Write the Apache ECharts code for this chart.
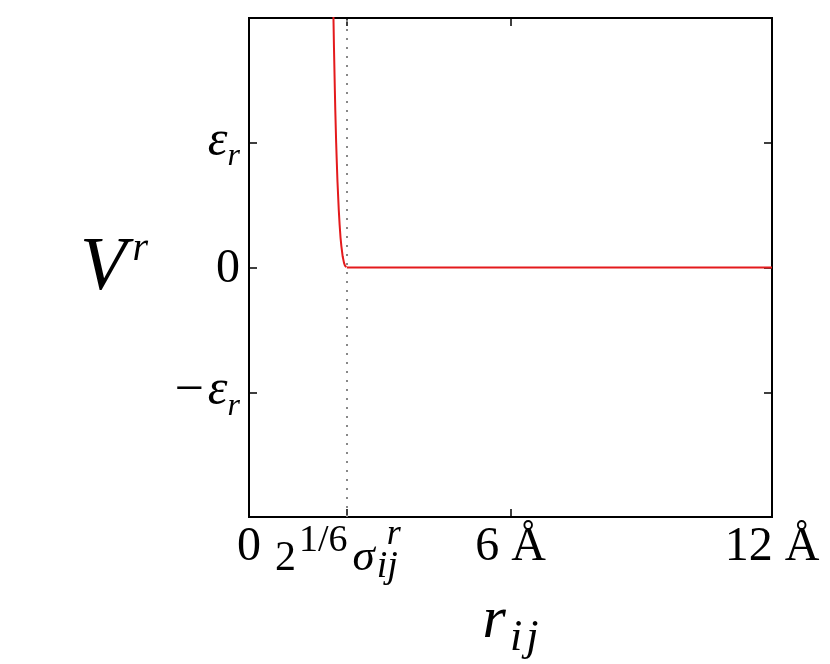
<!DOCTYPE html>
<html>
<head>
<meta charset="utf-8">
<script src="https://cdn.jsdelivr.net/npm/echarts@6/dist/echarts.min.js"></script>
<style>
  html, body { margin: 0; padding: 0; background: #fff; }
  #chart { width: 830px; height: 664px; }
</style>
</head>
<body>
<div id="chart"></div>
<script>
// 排斥势 V^r(r_ij)，读图得到的点
const rValues = [1.93, 1.94, 1.95, 1.97, 1.98, 2.0, 2.01, 2.03, 2.06, 2.08, 2.1, 2.12, 2.15, 2.18, 2.2, 2.23, 2.245, 12]
const vValues = [2.18, 1.96, 1.76, 1.42, 1.26, 1.0, 0.89, 0.69, 0.46, 0.34, 0.24, 0.17, 0.088, 0.037, 0.017, 0.002, 0, 0]
const cutoff = 2.245 // 2^(1/6) sigma
const xTicks = [0, 2.245, 6, 12]
const yTicks = [-1, 0, 1]

const serif = 'Liberation Serif'
const pts = rValues.map((r, i) => [r, vValues[i]])
// 截断前的陡峭部分和截断后的平直部分分开画
const wall = pts.filter(p => p[0] <= cutoff)
const flat = pts.filter(p => p[0] >= cutoff)

function xLabel(v) {
  if (Math.abs(v - cutoff) < 1e-6) return '{b|2}{sup|1/6}{sig|σ}{sub|ij}{supr|r}'
  if (v === 0) return '{n|0}'
  return '{n|' + v + ' Å}'
}
function yLabel(v) {
  if (v === 0) return '{z|0}'
  if (v > 0) return '{e|ε}{esub|r}'
  return '{m|−}{e|ε}{esub|r}'
}

// 上下标靠 padding 顶部偏移
function tok(size, padTop, italic, extra) {
  return Object.assign({
    fontFamily: serif, fontSize: size, fontStyle: italic ? 'italic' : 'normal',
    color: '#000', lineHeight: 48, verticalAlign: 'top', align: 'left', padding: [padTop, 0, 0, 0],
  }, extra || {})
}

const xRich = {
  n: tok(48, 0, false),
  b: tok(42, 15, false),
  sup: tok(38, -1, false, { padding: [-1, 3, 0, 3] }),
  sig: tok(45, 13, true, { padding: [13, 0, 0, 2] }),
  sub: tok(38, 25, true, { padding: [25, 0, 0, 2] }),
  supr: tok(36, -6, true, { padding: [-6, 18, 0, -11] }),
}
const yRich = {
  z: tok(48, 2, false),
  m: tok(52, -3, false, { padding: [-3, 4, 0, 0] }),
  e: tok(50, -2, true),
  esub: tok(32, 22, true),
}

const tickStyle = { inside: true, length: 8, lineStyle: { color: '#000', width: 1.5 } }
const noLine = { show: false, onZero: false }
const redLine = { color: '#e41a1c', width: 2 }

const option = {
  animation: false,
  grid: {
    left: 249, right: 58, top: 18, bottom: 147,
    outerBoundsMode: 'none', containLabel: false,
    show: true, borderColor: '#000', borderWidth: 2, backgroundColor: 'transparent',
  },
  xAxis: [
    {
      type: 'value', min: 0, max: 12, position: 'bottom',
      axisLine: noLine, splitLine: { show: false },
      axisTick: Object.assign({ customValues: xTicks }, tickStyle),
      axisLabel: { customValues: xTicks, margin: 6, formatter: xLabel, rich: xRich },
      name: '{r|r}{i|i}{j|j}', nameLocation: 'middle', nameGap: 74,
      nameTextStyle: {
        rich: {
          r: { fontFamily: serif, fontSize: 60, fontStyle: 'italic', color: '#000', lineHeight: 70, verticalAlign: 'top' },
          i: { fontFamily: serif, fontSize: 44, fontStyle: 'italic', color: '#000', lineHeight: 70, verticalAlign: 'top', padding: [25, 2, 0, 4] },
          j: { fontFamily: serif, fontSize: 44, fontStyle: 'italic', color: '#000', lineHeight: 70, verticalAlign: 'top', padding: [25, 0, 0, 2] },
        },
      },
    },
    {
      type: 'value', min: 0, max: 12, position: 'top',
      axisLine: noLine, splitLine: { show: false }, axisLabel: { show: false },
      axisTick: Object.assign({ customValues: xTicks }, tickStyle),
    },
  ],
  yAxis: [
    {
      type: 'value', min: -2, max: 2, position: 'left',
      axisLine: noLine, splitLine: { show: false },
      axisTick: Object.assign({ customValues: yTicks }, tickStyle),
      axisLabel: { customValues: yTicks, margin: 9, formatter: yLabel, rich: yRich },
      name: '{v|V}{r|r}', nameLocation: 'middle', nameRotate: 0, nameGap: 101,
      nameTextStyle: {
        align: 'right',
        rich: {
          v: { fontFamily: serif, fontSize: 76, fontStyle: 'italic', color: '#000', lineHeight: 80, verticalAlign: 'top', padding: [4, 0, 0, 0] },
          r: { fontFamily: serif, fontSize: 40, fontStyle: 'italic', color: '#000', lineHeight: 80, verticalAlign: 'top', padding: [2, 0, 0, 6] },
        },
      },
    },
    {
      type: 'value', min: -2, max: 2, position: 'right',
      axisLine: noLine, splitLine: { show: false }, axisLabel: { show: false },
      axisTick: Object.assign({ customValues: yTicks }, tickStyle),
    },
  ],
  series: [
    {
      type: 'line',
      data: wall,
      showSymbol: false,
      smooth: false,
      clip: true,
      lineStyle: redLine,
      markLine: {
        silent: true,
        symbol: 'none',
        label: { show: false },
        lineStyle: { color: '#888', width: 2, type: [2, 7] },
        data: [{ xAxis: cutoff }],
      },
      z: 3,
    },
    {
      type: 'line',
      data: flat,
      showSymbol: false,
      smooth: false,
      clip: true,
      lineStyle: redLine,
      z: 3,
    },
  ],
}

const myChart = echarts.init(document.getElementById('chart'))
myChart.setOption(option, true)
</script>
</body>
</html>
